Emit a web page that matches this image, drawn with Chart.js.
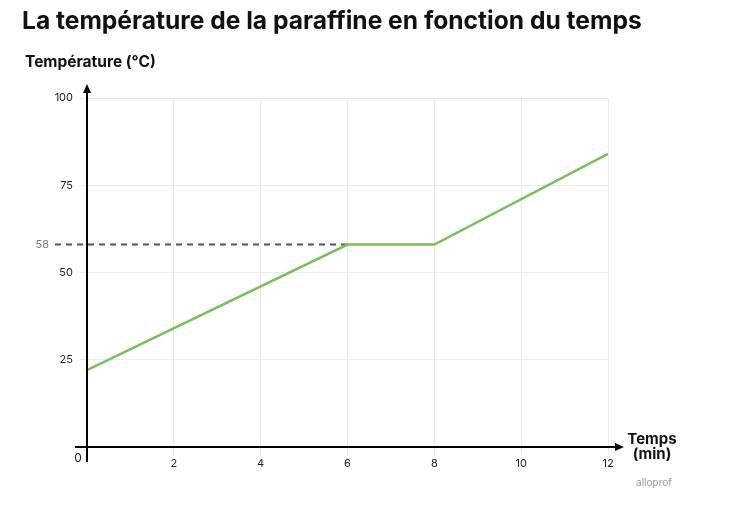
<!DOCTYPE html>
<html>
<head>
<meta charset="utf-8">
<script src="https://cdn.jsdelivr.net/npm/chart.js@4.4.1/dist/chart.umd.min.js"></script>
<style>
  html, body { margin: 0; padding: 0; background: #fff; }
  #wrap { width: 734px; height: 514px; }
</style>
</head>
<body>
<div id="wrap"><canvas id="chart" width="734" height="514"></canvas></div>
<script>
// data
const times = [0, 6, 8, 12];          // min
const temps = [22, 58, 58, 84];       // °C
const meltTime = 6;
const meltTemp = 58;
const xMax = 12, xStep = 2;
const yMax = 100, yStep = 25;

const titleText = 'La température de la paraffine en fonction du temps';
const yTitle = 'Température (°C)';
const xTitle = ['Temps', '(min)'];

const fontFamily = 'Inter, "Noto Sans", sans-serif';
const lineColor = '#79bf5c';
const gridColor = '#eeebe4';

function arrow(ctx, x, y, dir) {
    ctx.beginPath();
    if (dir === 'up') {
        ctx.moveTo(x, y);
        ctx.lineTo(x - 4, y + 9);
        ctx.lineTo(x + 4, y + 9);
    } else {
        ctx.moveTo(x, y);
        ctx.lineTo(x - 9, y - 4);
        ctx.lineTo(x - 9, y + 4);
    }
    ctx.closePath();
    ctx.fill();
}

const extras = {
    id: 'extras',
    beforeDraw(chart) {
        // title drawn by hand: the built-in one gets squeezed to the chart box width
        const ctx = chart.ctx;
        ctx.save();
        ctx.font = 'bold 24.6px ' + fontFamily;
        ctx.fillStyle = '#111';
        ctx.textAlign = 'left';
        ctx.textBaseline = 'middle';
        ctx.fillText(titleText, 22, 22);
        ctx.restore();
    },
    beforeDatasetsDraw(chart) {
        const {ctx, chartArea, scales} = chart;
        const yPix = scales.y.getPixelForValue(meltTemp);
        const xPix = scales.x.getPixelForValue(meltTime);
        ctx.save();
        ctx.strokeStyle = '#555';
        ctx.lineWidth = 2;
        ctx.setLineDash([6, 5]);
        ctx.beginPath();
        ctx.moveTo(chartArea.left - 32, yPix);
        ctx.lineTo(xPix, yPix);
        ctx.stroke();
        ctx.setLineDash([]);
        ctx.fillStyle = '#777';
        ctx.font = '11px ' + fontFamily;
        ctx.textAlign = 'right';
        ctx.textBaseline = 'middle';
        ctx.fillText(String(meltTemp), chartArea.left - 38, yPix);
        ctx.restore();
    },
    afterDatasetsDraw(chart) {
        const {ctx, chartArea, scales} = chart;
        const x0 = scales.x.getPixelForValue(0);
        const y0 = scales.y.getPixelForValue(0);
        ctx.save();
        ctx.strokeStyle = '#000';
        ctx.fillStyle = '#000';
        ctx.lineWidth = 2;
        ctx.beginPath();
        ctx.moveTo(chartArea.left - 12, y0);
        ctx.lineTo(chartArea.right + 10, y0);
        ctx.moveTo(x0, y0 + 15);
        ctx.lineTo(x0, chartArea.top - 6);
        ctx.stroke();
        arrow(ctx, chartArea.right + 16, y0, 'right');
        arrow(ctx, x0, chartArea.top - 14, 'up');

        ctx.font = '12px ' + fontFamily;
        ctx.fillStyle = '#222';
        ctx.textAlign = 'center';
        ctx.textBaseline = 'middle';
        ctx.fillText('0', x0 - 9, y0 + 11);

        ctx.font = 'bold 15.5px ' + fontFamily;
        ctx.fillStyle = '#111';
        ctx.textAlign = 'left';
        ctx.fillText(yTitle, 25, 62);
        ctx.font = 'bold 15px ' + fontFamily;
        ctx.textAlign = 'center';
        ctx.fillText(xTitle[0], chartArea.right + 44, y0 - 8);
        ctx.fillText(xTitle[1], chartArea.right + 44, y0 + 7);

        ctx.font = '10px ' + fontFamily;
        ctx.fillStyle = '#999';
        ctx.fillText('alloprof', chartArea.right + 46, y0 + 36);
        ctx.restore();
    }
};

new Chart(document.getElementById('chart'), {
    type: 'scatter',
    data: {
        datasets: [{
            data: times.map((t, i) => ({x: t, y: temps[i]})),
            showLine: true,
            borderColor: lineColor,
            borderWidth: 2.5,
            pointRadius: 0,
            tension: 0
        }]
    },
    options: {
        responsive: false,
        animation: false,
        layout: {padding: {left: 22, right: 126, top: 98, bottom: 37}},
        plugins: {
            legend: {display: false},
            tooltip: {enabled: false},
            title: {display: false}
        },
        scales: {
            x: {
                type: 'linear',
                min: 0,
                max: xMax,
                border: {display: false},
                grid: {color: gridColor, lineWidth: 1, tickLength: 8},
                ticks: {
                    stepSize: xStep,
                    color: '#222',
                    padding: 2,
                    maxRotation: 0,
                    font: {family: fontFamily, size: 11},
                    callback: v => v === 0 ? '' : v
                },
                afterFit: s => { s.height = 30; }
            },
            y: {
                min: 0,
                max: yMax,
                border: {display: false},
                grid: {color: gridColor, lineWidth: 1, tickLength: 7},
                ticks: {
                    stepSize: yStep,
                    color: '#222',
                    padding: 7,
                    font: {family: fontFamily, size: 11},
                    callback: v => v === 0 ? '' : v
                },
                afterFit: s => { s.width = 65; }
            }
        }
    },
    plugins: [extras]
});
</script>
</body>
</html>
